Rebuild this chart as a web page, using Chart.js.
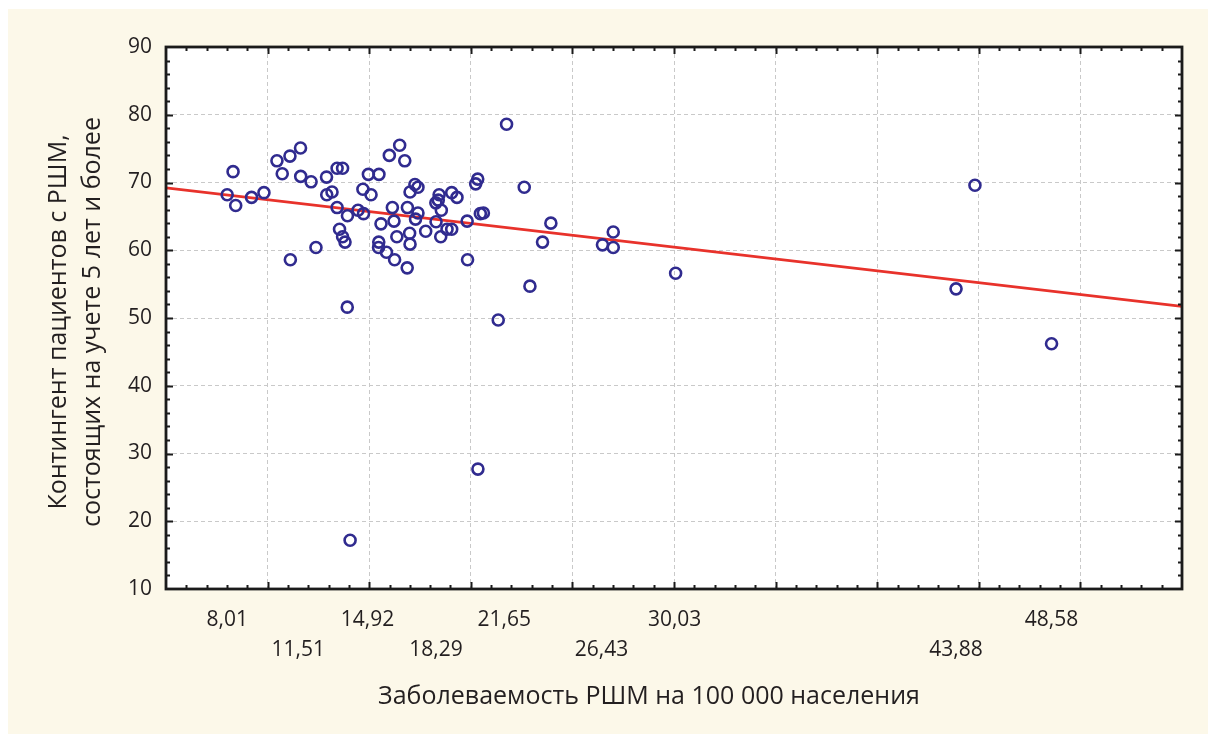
<!DOCTYPE html>
<html>
<head>
<meta charset="utf-8">
<title>РШМ</title>
<script src="https://cdn.jsdelivr.net/npm/chart.js@4.4.0/dist/chart.umd.min.js"></script>
<style>
  html, body { margin: 0; padding: 0; background: #fff; }
  #myChart { display: block; }
</style>
</head>
<body>
<canvas id="myChart" width="1208" height="734"></canvas>
<script>
// values
var incidence = [8.01, 8.30, 8.43, 9.21, 9.82, 10.46, 10.72, 11.10, 11.62, 11.12,
  11.63, 12.14, 12.38, 12.90, 12.91, 13.17, 13.42, 13.69, 13.42, 13.54,
  13.69, 13.81, 13.93, 13.92, 14.06, 14.45, 14.69, 14.72, 14.96, 15.09,
  15.48, 15.47, 15.46, 15.58, 15.85, 15.99, 16.14, 16.22, 16.25, 16.36,
  16.50, 16.75, 16.88, 16.87, 17.01, 16.99, 17.01, 17.25, 17.28, 17.40,
  17.40, 17.78, 18.28, 18.29, 18.44, 18.40, 18.55, 18.52, 18.83, 19.06,
  19.06, 19.32, 19.84, 19.82, 20.24, 20.34, 20.35, 20.47, 20.62, 21.35,
  21.76, 22.63, 22.91, 23.53, 23.94, 26.48, 27.01, 27.01, 30.08, 43.88,
  44.81, 48.58];

var contingent = [68.2, 71.6, 66.6, 67.8, 68.5, 73.2, 71.3, 73.9, 75.1, 58.6,
  70.9, 70.1, 60.4, 70.8, 68.2, 68.6, 72.1, 72.1, 66.3, 63.1,
  62.0, 61.2, 65.1, 51.6, 17.2, 65.9, 69.0, 65.4, 71.2, 68.2,
  71.2, 61.2, 60.4, 63.9, 59.7, 74.0, 66.3, 64.3, 58.6, 62.0,
  75.5, 73.2, 66.3, 57.4, 68.6, 62.5, 60.9, 69.7, 64.6, 69.3,
  65.5, 62.8, 67.0, 64.2, 68.2, 67.4, 65.9, 62.0, 63.1, 68.5,
  63.1, 67.8, 58.6, 64.3, 69.8, 70.5, 27.7, 65.4, 65.5, 49.7,
  78.6, 69.3, 54.7, 61.2, 64.0, 60.8, 62.7, 60.4, 56.6, 54.3,
  69.6, 46.2];

// regression line ends
var fitX = [5, 55];
var fitY = [69.2, 51.7];

// labels under the x axis (two staggered rows)
var tickValues = [8.01, 11.51, 14.92, 18.29, 21.65, 26.43, 30.03, 43.88, 48.58];
var tickLabels = ['8,01', '11,51', '14,92', '18,29', '21,65', '26,43', '30,03', '43,88', '48,58'];
var tickRow    = [0, 1, 0, 1, 0, 1, 0, 1, 0];

var xTitle = 'Заболеваемость РШМ на 100 000 населения';
var yTitle = ['Контингент пациентов с РШМ,', 'состоящих на учете 5 лет и более'];

var FONT = '"Open Sans", "Noto Sans", sans-serif';
var TEXT = '#231f20';
var GRID = '#c9c9c9';

var points = incidence.map(function (x, i) { return {x: x, y: contingent[i]}; });
var fitLine = fitX.map(function (x, i) { return {x: x, y: fitY[i]}; });

var frame = {
  id: 'frame',
  beforeDraw: function (chart) {
    var ctx = chart.ctx, a = chart.chartArea;
    ctx.save();
    ctx.fillStyle = '#fcf8e9';
    ctx.fillRect(8, 9, chart.width - 8, chart.height - 9);
    ctx.fillStyle = '#ffffff';
    ctx.fillRect(a.left, a.top, a.right - a.left, a.bottom - a.top);
    ctx.restore();
  },
  afterDatasetsDraw: function (chart) {
    var ctx = chart.ctx, a = chart.chartArea;
    var xs = chart.scales.x, ys = chart.scales.y;
    ctx.save();
    ctx.strokeStyle = '#1b1b1b';
    ctx.lineWidth = 2;
    ctx.beginPath();
    var v, p, len;
    for (v = 6; v < 55; v++) {
      p = Math.round(xs.getPixelForValue(v)) + 0.5;
      len = (v % 5 === 0) ? 7 : 4;
      ctx.moveTo(p, a.bottom); ctx.lineTo(p, a.bottom - len);
      ctx.moveTo(p, a.top); ctx.lineTo(p, a.top + len);
    }
    for (v = 12; v < 90; v += 2) {
      p = Math.round(ys.getPixelForValue(v)) + 0.5;
      len = (v % 10 === 0) ? 7 : 4;
      ctx.moveTo(a.left, p); ctx.lineTo(a.left + len, p);
      ctx.moveTo(a.right, p); ctx.lineTo(a.right - len, p);
    }
    ctx.stroke();
    ctx.lineWidth = 2.8;
    ctx.strokeRect(a.left, a.top, a.right - a.left, a.bottom - a.top);
    ctx.restore();
  },
  afterDraw: function (chart) {
    var ctx = chart.ctx;
    ctx.save();
    ctx.fillStyle = TEXT;
    ctx.font = '25px ' + FONT;
    ctx.textAlign = 'center';
    ctx.textBaseline = 'middle';
    ctx.fillText(xTitle, 649, 697);
    ctx.translate(59, 322);
    ctx.rotate(-Math.PI / 2);
    ctx.fillText(yTitle[0], 0, 0);
    ctx.fillText(yTitle[1], 0, 34);
    ctx.restore();
  }
};

var ctx = document.getElementById('myChart').getContext('2d');
var chart = new Chart(ctx, {
  type: 'scatter',
  data: {
    datasets: [
      {
        label: 'points',
        data: points,
        pointRadius: 5.5,
        pointHoverRadius: 5.5,
        pointBorderWidth: 2.6,
        pointBorderColor: '#302b8f',
        pointBackgroundColor: 'rgba(0,0,0,0)',
        showLine: false,
        order: 1
      },
      {
        label: 'fit',
        data: fitLine,
        showLine: true,
        borderColor: '#e8322b',
        borderWidth: 2.7,
        pointRadius: 0,
        fill: false,
        order: 2
      }
    ]
  },
  options: {
    responsive: false,
    devicePixelRatio: 1,
    animation: false,
    events: [],
    layout: { padding: { top: 47, right: 26, left: 0, bottom: 0 } },
    plugins: { legend: { display: false }, tooltip: { enabled: false } },
    scales: {
      x: {
        type: 'linear',
        min: 5,
        max: 55,
        afterBuildTicks: function (scale) {
          var t = [];
          for (var v = 5; v <= 55; v += 5) t.push({value: v});
          tickValues.forEach(function (v) { t.push({value: v}); });
          t.sort(function (a, b) { return a.value - b.value; });
          scale.ticks = t;
        },
        afterFit: function (scale) { scale.height = 145; },
        ticks: {
          autoSkip: false,
          maxRotation: 0,
          padding: 16,
          color: TEXT,
          font: { family: FONT, size: 21, lineHeight: 1.43 },
          callback: function (value) {
            var i = tickValues.indexOf(value);
            if (i < 0) return '';
            return tickRow[i] ? ['', tickLabels[i]] : tickLabels[i];
          }
        },
        grid: {
          drawTicks: false,
          lineWidth: 1,
          color: function (c) {
            var v = c.tick ? c.tick.value : 0;
            return (v % 5 === 0 && v > 5 && v < 55) ? GRID : 'rgba(0,0,0,0)';
          }
        },
        border: { display: false, dash: [4, 3] }
      },
      y: {
        min: 10,
        max: 90,
        afterFit: function (scale) { scale.width = 166; },
        ticks: {
          stepSize: 10,
          padding: 14,
          color: TEXT,
          font: { family: FONT, size: 21 }
        },
        grid: {
          drawTicks: false,
          lineWidth: 1,
          color: function (c) {
            var v = c.tick ? c.tick.value : 0;
            return (v > 10 && v < 90) ? GRID : 'rgba(0,0,0,0)';
          }
        },
        border: { display: false, dash: [4, 3] }
      }
    }
  },
  plugins: [frame]
});
</script>
</body>
</html>
